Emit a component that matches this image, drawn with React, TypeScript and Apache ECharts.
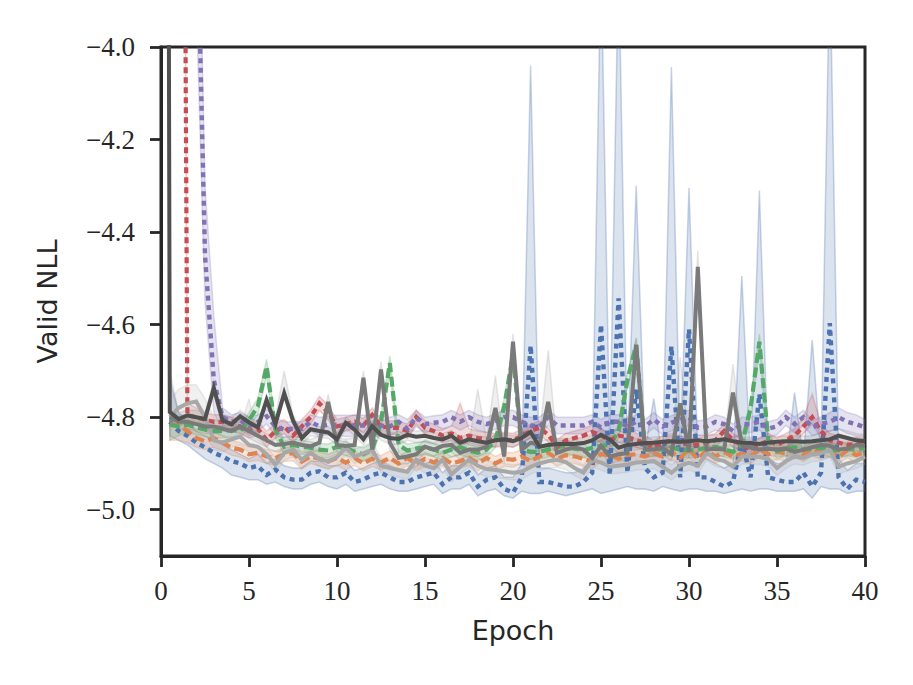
import React, { useEffect, useRef } from "react";
import * as echarts from "echarts";

// x grid (epochs), first point at 0
const EPOCHS = [
  0, 0.5, 1, 1.5, 2, 2.5, 3, 3.5, 4, 4.5, 5, 5.5, 6, 6.5, 7, 7.5, 8, 8.5, 9, 9.5, 10,
  10.5, 11, 11.5, 12, 12.5, 13, 13.5, 14, 14.5, 15, 15.5, 16, 16.5, 17, 17.5, 18, 18.5, 19, 19.5, 20,
  20.5, 21, 21.5, 22, 22.5, 23, 23.5, 24, 24.5, 25, 25.5, 26, 26.5, 27, 27.5, 28, 28.5, 29, 29.5, 30,
  30.5, 31, 31.5, 32, 32.5, 33, 33.5, 34, 34.5, 35, 35.5, 36, 36.5, 37, 37.5, 38, 38.5, 39, 39.5, 40,
];
const X_TICKS = [0, 5, 10, 15, 20, 25, 30, 35, 40];
const Y_TICKS = [-5.0, -4.8, -4.6, -4.4, -4.2, -4.0];

// ---- blue (dotted) ----
const BLUE = [null,
  -4.81, -4.83, -4.84, -4.855, -4.865, -4.877, -4.885, -4.895, -4.90, -4.91,
  -4.905, -4.925, -4.913, -4.93, -4.935, -4.935, -4.92, -4.917, -4.93, -4.93,
  -4.92, -4.94, -4.935, -4.925, -4.92, -4.93, -4.94, -4.94, -4.93, -4.925,
  -4.92, -4.945, -4.93, -4.93, -4.92, -4.95, -4.935, -4.93, -4.955, -4.963,
  -4.93, -4.645, -4.94, -4.94, -4.945, -4.95, -4.95, -4.94, -4.92, -4.60,
  -4.925, -4.543, -4.92, -4.74, -4.91, -4.93, -4.92, -4.647, -4.93, -4.61,
  -4.93, -4.93, -4.94, -4.95, -4.94, -4.85, -4.93, -4.75, -4.93, -4.935,
  -4.94, -4.94, -4.92, -4.95, -4.92, -4.597, -4.93, -4.955, -4.935, -4.94];
const BLUE_HI = [null,
  -4.72, -4.79, -4.81, -4.83, -4.84, -4.85, -4.86, -4.87, -4.88, -4.89,
  -4.88, -4.90, -4.89, -4.905, -4.91, -4.91, -4.895, -4.895, -4.905, -4.905,
  -4.895, -4.915, -4.91, -4.90, -4.895, -4.905, -4.915, -4.915, -4.905, -4.90,
  -4.895, -4.92, -4.905, -4.905, -4.895, -4.925, -4.91, -4.905, -4.93, -4.93,
  -4.90, -4.04, -4.91, -4.91, -4.915, -4.92, -4.92, -4.91, -4.89, -3.8,
  -4.86, -3.8, -4.88, -4.30, -4.87, -4.76, -4.89, -4.043, -4.88, -4.304,
  -4.88, -4.89, -4.90, -4.91, -4.90, -4.495, -4.90, -4.31, -4.89, -4.90,
  -4.90, -4.747, -4.89, -4.633, -4.88, -3.8, -4.89, -4.915, -4.90, -4.90];
const BLUE_LO = [null,
  -4.84, -4.85, -4.86, -4.875, -4.89, -4.90, -4.91, -4.925, -4.93, -4.935,
  -4.935, -4.945, -4.94, -4.95, -4.955, -4.955, -4.945, -4.94, -4.95, -4.955,
  -4.945, -4.96, -4.955, -4.95, -4.945, -4.955, -4.96, -4.96, -4.955, -4.95,
  -4.945, -4.965, -4.955, -4.955, -4.945, -4.97, -4.96, -4.955, -4.97, -4.975,
  -4.96, -4.965, -4.965, -4.96, -4.965, -4.97, -4.965, -4.96, -4.955, -4.965,
  -4.96, -4.955, -4.95, -4.955, -4.955, -4.96, -4.95, -4.955, -4.96, -4.955,
  -4.955, -4.96, -4.96, -4.965, -4.96, -4.955, -4.96, -4.955, -4.955, -4.96,
  -4.96, -4.96, -4.955, -4.975, -4.95, -4.955, -4.955, -4.965, -4.96, -4.96];

// ---- orange (dashed) ----
const ORANGE = [null,
  -4.815, -4.817, -4.83, -4.845, -4.852, -4.845, -4.855, -4.866, -4.87, -4.88,
  -4.877, -4.885, -4.888, -4.88, -4.878, -4.896, -4.885, -4.89, -4.896, -4.888,
  -4.898, -4.888, -4.9, -4.89, -4.898, -4.888, -4.9, -4.888, -4.9, -4.89,
  -4.898, -4.888, -4.9, -4.895, -4.888, -4.9, -4.888, -4.9, -4.89, -4.892,
  -4.885, -4.895, -4.885, -4.877, -4.89, -4.882, -4.885, -4.89, -4.896, -4.88,
  -4.882, -4.89, -4.882, -4.88, -4.885, -4.878, -4.885, -4.875, -4.888, -4.87,
  -4.89, -4.872, -4.885, -4.875, -4.886, -4.878, -4.885, -4.87, -4.88, -4.875,
  -4.878, -4.87, -4.88, -4.868, -4.875, -4.87, -4.885, -4.872, -4.882, -4.875];
const ORANGE_HI = [null,
  -4.80, -4.80, -4.81, -4.825, -4.835, -4.83, -4.84, -4.85, -4.855, -4.865,
  -4.862, -4.87, -4.873, -4.866, -4.864, -4.88, -4.87, -4.875, -4.88, -4.873,
  -4.883, -4.873, -4.885, -4.876, -4.883, -4.873, -4.885, -4.873, -4.885, -4.876,
  -4.883, -4.873, -4.885, -4.88, -4.873, -4.885, -4.873, -4.885, -4.876, -4.877,
  -4.87, -4.88, -4.87, -4.862, -4.875, -4.867, -4.87, -4.875, -4.88, -4.865,
  -4.867, -4.875, -4.867, -4.865, -4.87, -4.863, -4.87, -4.86, -4.873, -4.855,
  -4.875, -4.857, -4.87, -4.86, -4.871, -4.863, -4.87, -4.855, -4.865, -4.86,
  -4.863, -4.855, -4.865, -4.853, -4.86, -4.855, -4.87, -4.857, -4.867, -4.86];
const ORANGE_LO = [null,
  -4.85, -4.85, -4.855, -4.865, -4.87, -4.865, -4.872, -4.882, -4.886, -4.896,
  -4.893, -4.9, -4.904, -4.896, -4.894, -4.912, -4.9, -4.906, -4.912, -4.904,
  -4.914, -4.904, -4.916, -4.906, -4.914, -4.904, -4.916, -4.904, -4.916, -4.906,
  -4.914, -4.904, -4.916, -4.91, -4.904, -4.916, -4.904, -4.916, -4.906, -4.908,
  -4.9, -4.911, -4.9, -4.893, -4.906, -4.898, -4.9, -4.906, -4.912, -4.896,
  -4.898, -4.906, -4.898, -4.896, -4.9, -4.894, -4.9, -4.891, -4.904, -4.886,
  -4.906, -4.888, -4.9, -4.891, -4.902, -4.894, -4.9, -4.886, -4.896, -4.891,
  -4.894, -4.886, -4.896, -4.884, -4.891, -4.886, -4.9, -4.888, -4.898, -4.891];

// ---- green (dashed) ----
const GREEN = [null,
  -4.816, -4.82, -4.816, -4.822, -4.827, -4.83, -4.83, -4.828, -4.83, -4.806,
  -4.777, -4.69, -4.827, -4.864, -4.86, -4.864, -4.866, -4.87, -4.872, -4.864,
  -4.866, -4.875, -4.88, -4.87, -4.81, -4.683, -4.86, -4.872, -4.868, -4.865,
  -4.87, -4.877, -4.87, -4.865, -4.872, -4.877, -4.87, -4.85, -4.777, -4.665,
  -4.87, -4.875, -4.875, -4.87, -4.865, -4.862, -4.868, -4.872, -4.866, -4.862,
  -4.86, -4.83, -4.72, -4.644, -4.87, -4.868, -4.87, -4.866, -4.87, -4.872,
  -4.87, -4.866, -4.864, -4.87, -4.875, -4.86, -4.78, -4.637, -4.85, -4.873,
  -4.868, -4.865, -4.87, -4.868, -4.866, -4.87, -4.872, -4.868, -4.87, -4.866];
const GREEN_HI = [null,
  -4.80, -4.805, -4.80, -4.808, -4.814, -4.818, -4.818, -4.815, -4.818, -4.79,
  -4.76, -4.675, -4.81, -4.85, -4.847, -4.85, -4.853, -4.857, -4.858, -4.85,
  -4.853, -4.862, -4.866, -4.856, -4.795, -4.668, -4.847, -4.858, -4.855, -4.852,
  -4.857, -4.864, -4.857, -4.852, -4.858, -4.863, -4.857, -4.836, -4.76, -4.645,
  -4.855, -4.862, -4.862, -4.857, -4.852, -4.849, -4.855, -4.858, -4.853, -4.849,
  -4.847, -4.816, -4.705, -4.628, -4.855, -4.855, -4.857, -4.853, -4.857, -4.858,
  -4.857, -4.853, -4.85, -4.857, -4.862, -4.846, -4.763, -4.62, -4.835, -4.86,
  -4.855, -4.852, -4.857, -4.855, -4.853, -4.857, -4.858, -4.855, -4.857, -4.853];
const GREEN_LO = [null,
  -4.85, -4.84, -4.832, -4.838, -4.842, -4.845, -4.845, -4.843, -4.845, -4.822,
  -4.795, -4.71, -4.845, -4.88, -4.876, -4.88, -4.882, -4.886, -4.888, -4.88,
  -4.882, -4.89, -4.895, -4.886, -4.826, -4.7, -4.877, -4.888, -4.884, -4.881,
  -4.886, -4.893, -4.886, -4.881, -4.888, -4.893, -4.886, -4.866, -4.795, -4.685,
  -4.886, -4.891, -4.891, -4.886, -4.881, -4.878, -4.884, -4.888, -4.882, -4.878,
  -4.876, -4.846, -4.736, -4.662, -4.886, -4.884, -4.886, -4.882, -4.886, -4.888,
  -4.886, -4.882, -4.88, -4.886, -4.891, -4.876, -4.797, -4.655, -4.866, -4.889,
  -4.884, -4.881, -4.886, -4.884, -4.882, -4.886, -4.888, -4.884, -4.886, -4.882];

// ---- red (dashed, short) ----
const RED = [null,
  -0.5, -1.0, -4.796, -4.80, -4.806, -4.81, -4.81, -4.815, -4.82, -4.83,
  -4.825, -4.849, -4.83, -4.82, -4.84, -4.82, -4.80, -4.77, -4.79, -4.82,
  -4.815, -4.81, -4.818, -4.795, -4.82, -4.823, -4.823, -4.83, -4.80, -4.823,
  -4.83, -4.84, -4.835, -4.845, -4.84, -4.845, -4.848, -4.85, -4.848, -4.85,
  -4.84, -4.83, -4.823, -4.838, -4.864, -4.85, -4.845, -4.84, -4.832, -4.84,
  -4.85, -4.84, -4.843, -4.85, -4.855, -4.866, -4.855, -4.85, -4.855, -4.86,
  -4.86, -4.855, -4.85, -4.83, -4.85, -4.86, -4.87, -4.86, -4.85, -4.86,
  -4.85, -4.84, -4.82, -4.80, -4.83, -4.85, -4.855, -4.86, -4.858, -4.86];
const RED_HI = [null,
  -0.3, -0.8, -4.77, -4.78, -4.79, -4.795, -4.795, -4.80, -4.805, -4.815,
  -4.81, -4.83, -4.815, -4.805, -4.825, -4.805, -4.785, -4.755, -4.775, -4.805,
  -4.80, -4.795, -4.803, -4.78, -4.805, -4.808, -4.808, -4.815, -4.785, -4.808,
  -4.815, -4.825, -4.82, -4.77, -4.825, -4.83, -4.833, -4.835, -4.833, -4.835,
  -4.825, -4.815, -4.808, -4.823, -4.849, -4.835, -4.83, -4.825, -4.817, -4.825,
  -4.835, -4.825, -4.80, -4.835, -4.84, -4.851, -4.84, -4.835, -4.84, -4.845,
  -4.845, -4.84, -4.835, -4.815, -4.835, -4.845, -4.855, -4.845, -4.835, -4.845,
  -4.835, -4.825, -4.80, -4.75, -4.815, -4.835, -4.84, -4.845, -4.843, -4.845];
const RED_LO = [null,
  -0.7, -1.2, -4.81, -4.815, -4.82, -4.825, -4.825, -4.83, -4.835, -4.845,
  -4.84, -4.864, -4.845, -4.835, -4.855, -4.835, -4.815, -4.785, -4.805, -4.835,
  -4.83, -4.825, -4.833, -4.81, -4.835, -4.838, -4.838, -4.845, -4.815, -4.838,
  -4.845, -4.855, -4.85, -4.86, -4.855, -4.86, -4.863, -4.865, -4.863, -4.865,
  -4.855, -4.845, -4.838, -4.853, -4.879, -4.865, -4.86, -4.855, -4.847, -4.855,
  -4.865, -4.855, -4.858, -4.865, -4.87, -4.881, -4.87, -4.865, -4.87, -4.875,
  -4.875, -4.87, -4.865, -4.845, -4.865, -4.875, -4.885, -4.875, -4.865, -4.875,
  -4.865, -4.855, -4.835, -4.815, -4.845, -4.865, -4.87, -4.875, -4.873, -4.875];

// ---- purple (dotted) ----
const PURPLE = [null,
  -1.5, -2.0, -2.8, -3.63, -4.45, -4.72, -4.80, -4.81, -4.806, -4.82,
  -4.81, -4.798, -4.82, -4.827, -4.825, -4.825, -4.81, -4.82, -4.816, -4.816,
  -4.818, -4.818, -4.818, -4.818, -4.818, -4.82, -4.81, -4.825, -4.80, -4.815,
  -4.812, -4.81, -4.80, -4.81, -4.80, -4.81, -4.815, -4.808, -4.80, -4.80,
  -4.81, -4.818, -4.82, -4.80, -4.818, -4.818, -4.818, -4.818, -4.81, -4.822,
  -4.81, -4.81, -4.82, -4.81, -4.82, -4.805, -4.82, -4.812, -4.805, -4.80,
  -4.823, -4.82, -4.81, -4.815, -4.83, -4.815, -4.815, -4.81, -4.825, -4.82,
  -4.80, -4.815, -4.80, -4.822, -4.815, -4.81, -4.80, -4.81, -4.815, -4.822];
const PURPLE_HI = [null,
  -1.2, -1.7, -2.5, -3.4, -4.30, -4.58, -4.78, -4.795, -4.79, -4.80,
  -4.795, -4.783, -4.80, -4.81, -4.81, -4.81, -4.795, -4.80, -4.798, -4.796,
  -4.796, -4.796, -4.796, -4.796, -4.796, -4.80, -4.795, -4.805, -4.785, -4.80,
  -4.797, -4.795, -4.785, -4.795, -4.785, -4.795, -4.80, -4.793, -4.785, -4.785,
  -4.795, -4.80, -4.80, -4.785, -4.80, -4.80, -4.80, -4.80, -4.795, -4.805,
  -4.795, -4.795, -4.805, -4.795, -4.805, -4.79, -4.805, -4.797, -4.79, -4.785,
  -4.808, -4.805, -4.795, -4.80, -4.815, -4.80, -4.80, -4.795, -4.81, -4.805,
  -4.785, -4.80, -4.785, -4.807, -4.80, -4.79, -4.78, -4.79, -4.795, -4.805];
const PURPLE_LO = [null,
  -1.8, -2.3, -3.1, -3.9, -4.55, -4.79, -4.83, -4.83, -4.826, -4.84,
  -4.83, -4.815, -4.84, -4.845, -4.843, -4.843, -4.83, -4.84, -4.838, -4.84,
  -4.842, -4.842, -4.842, -4.842, -4.842, -4.84, -4.83, -4.845, -4.82, -4.833,
  -4.83, -4.828, -4.818, -4.828, -4.818, -4.828, -4.833, -4.826, -4.818, -4.818,
  -4.828, -4.836, -4.838, -4.818, -4.836, -4.836, -4.836, -4.836, -4.828, -4.84,
  -4.828, -4.828, -4.838, -4.828, -4.838, -4.823, -4.838, -4.83, -4.823, -4.818,
  -4.841, -4.838, -4.828, -4.833, -4.848, -4.833, -4.833, -4.828, -4.843, -4.838,
  -4.818, -4.833, -4.818, -4.84, -4.833, -4.83, -4.825, -4.835, -4.84, -4.842];

// ---- light grey (solid) ----
const LIGHT = [null,
  -4.80, -4.78, -4.77, -4.766, -4.80, -4.85, -4.855, -4.848, -4.842, -4.86,
  -4.864, -4.88, -4.903, -4.877, -4.87, -4.892, -4.877, -4.89, -4.896, -4.886,
  -4.866, -4.885, -4.878, -4.87, -4.905, -4.91, -4.914, -4.918, -4.892, -4.905,
  -4.91, -4.892, -4.924, -4.907, -4.892, -4.905, -4.912, -4.914, -4.917, -4.92,
  -4.918, -4.907, -4.90, -4.895, -4.892, -4.897, -4.91, -4.92, -4.892, -4.898,
  -4.907, -4.905, -4.903, -4.898, -4.897, -4.895, -4.907, -4.92, -4.905, -4.898,
  -4.905, -4.877, -4.89, -4.895, -4.907, -4.885, -4.885, -4.886, -4.89, -4.91,
  -4.895, -4.885, -4.888, -4.88, -4.878, -4.87, -4.907, -4.90, -4.895, -4.885];
const LIGHT_HI = [null,
  -4.76, -4.74, -4.73, -4.73, -4.76, -4.80, -4.83, -4.83, -4.825, -4.76,
  -4.848, -4.864, -4.887, -4.86, -4.853, -4.876, -4.86, -4.873, -4.88, -4.87,
  -4.85, -4.869, -4.862, -4.853, -4.889, -4.893, -4.898, -4.90, -4.876, -4.888,
  -4.893, -4.876, -4.907, -4.89, -4.876, -4.888, -4.895, -4.897, -4.90, -4.903,
  -4.90, -4.89, -4.883, -4.878, -4.876, -4.88, -4.893, -4.903, -4.876, -4.882,
  -4.89, -4.888, -4.886, -4.88, -4.88, -4.878, -4.89, -4.903, -4.888, -4.88,
  -4.888, -4.86, -4.873, -4.878, -4.89, -4.868, -4.868, -4.87, -4.873, -4.893,
  -4.878, -4.868, -4.87, -4.862, -4.86, -4.852, -4.89, -4.883, -4.878, -4.868];
const LIGHT_LO = [null,
  -4.83, -4.81, -4.80, -4.80, -4.83, -4.87, -4.875, -4.865, -4.86, -4.877,
  -4.88, -4.896, -4.92, -4.893, -4.886, -4.908, -4.893, -4.906, -4.912, -4.902,
  -4.882, -4.90, -4.894, -4.886, -4.92, -4.926, -4.93, -4.934, -4.908, -4.921,
  -4.926, -4.908, -4.94, -4.923, -4.908, -4.921, -4.928, -4.93, -4.933, -4.936,
  -4.934, -4.923, -4.916, -4.911, -4.908, -4.913, -4.926, -4.936, -4.908, -4.914,
  -4.923, -4.921, -4.919, -4.914, -4.913, -4.911, -4.923, -4.936, -4.921, -4.914,
  -4.921, -4.893, -4.906, -4.911, -4.923, -4.901, -4.901, -4.902, -4.906, -4.926,
  -4.911, -4.901, -4.904, -4.896, -4.894, -4.886, -4.923, -4.916, -4.911, -4.901];

// ---- medium grey (solid, spiky) ----
const MID = [null,
  -4.80, -4.81, -4.81, -4.815, -4.82, -4.82, -4.825, -4.83, -4.82, -4.83,
  -4.84, -4.85, -4.86, -4.858, -4.855, -4.86, -4.863, -4.855, -4.767, -4.86,
  -4.862, -4.86, -4.715, -4.87, -4.697, -4.855, -4.888, -4.885, -4.88, -4.864,
  -4.87, -4.862, -4.86, -4.877, -4.87, -4.87, -4.864, -4.78, -4.885, -4.637,
  -4.87, -4.855, -4.86, -4.767, -4.877, -4.87, -4.865, -4.87, -4.888, -4.862,
  -4.885, -4.88, -4.878, -4.644, -4.87, -4.87, -4.866, -4.88, -4.77, -4.875,
  -4.475, -4.87, -4.868, -4.87, -4.747, -4.86, -4.865, -4.87, -4.868, -4.87,
  -4.868, -4.875, -4.87, -4.865, -4.86, -4.862, -4.87, -4.868, -4.86, -4.862];
const MID_HI = [null,
  -4.785, -4.795, -4.795, -4.80, -4.805, -4.805, -4.81, -4.815, -4.805, -4.815,
  -4.825, -4.835, -4.845, -4.843, -4.84, -4.845, -4.848, -4.84, -4.75, -4.845,
  -4.847, -4.845, -4.70, -4.855, -4.68, -4.84, -4.873, -4.87, -4.865, -4.849,
  -4.855, -4.847, -4.845, -4.862, -4.855, -4.74, -4.849, -4.71, -4.87, -4.62,
  -4.855, -4.84, -4.845, -4.655, -4.862, -4.855, -4.85, -4.855, -4.873, -4.847,
  -4.87, -4.865, -4.863, -4.63, -4.855, -4.855, -4.851, -4.865, -4.67, -4.86,
  -4.44, -4.855, -4.853, -4.855, -4.685, -4.845, -4.85, -4.855, -4.853, -4.855,
  -4.853, -4.86, -4.855, -4.85, -4.845, -4.847, -4.855, -4.853, -4.845, -4.847];
const MID_LO = [null,
  -4.815, -4.825, -4.825, -4.83, -4.835, -4.835, -4.84, -4.845, -4.835, -4.845,
  -4.855, -4.865, -4.875, -4.873, -4.87, -4.875, -4.878, -4.87, -4.79, -4.875,
  -4.877, -4.875, -4.735, -4.885, -4.72, -4.87, -4.903, -4.90, -4.895, -4.879,
  -4.885, -4.877, -4.875, -4.892, -4.885, -4.885, -4.879, -4.80, -4.90, -4.66,
  -4.885, -4.87, -4.875, -4.79, -4.892, -4.885, -4.88, -4.885, -4.903, -4.877,
  -4.90, -4.895, -4.893, -4.665, -4.885, -4.885, -4.881, -4.895, -4.79, -4.89,
  -4.51, -4.885, -4.883, -4.885, -4.77, -4.875, -4.88, -4.885, -4.883, -4.885,
  -4.883, -4.89, -4.885, -4.88, -4.875, -4.877, -4.885, -4.883, -4.875, -4.877];

// ---- dark grey (solid) ----
const DARK = [3.0,
  -4.789, -4.804, -4.796, -4.80, -4.804, -4.737, -4.807, -4.815, -4.798, -4.811,
  -4.822, -4.763, -4.815, -4.748, -4.807, -4.845, -4.826, -4.83, -4.833, -4.848,
  -4.812, -4.827, -4.848, -4.82, -4.838, -4.845, -4.847, -4.838, -4.842, -4.84,
  -4.845, -4.848, -4.84, -4.855, -4.848, -4.852, -4.855, -4.85, -4.848, -4.852,
  -4.845, -4.832, -4.864, -4.86, -4.858, -4.858, -4.858, -4.856, -4.85, -4.838,
  -4.848, -4.866, -4.86, -4.858, -4.856, -4.855, -4.853, -4.852, -4.853, -4.852,
  -4.85, -4.852, -4.85, -4.848, -4.852, -4.855, -4.856, -4.858, -4.855, -4.853,
  -4.852, -4.852, -4.853, -4.852, -4.85, -4.848, -4.84, -4.845, -4.85, -4.852];
const DARK_HI = [3.2,
  -4.70, -4.79, -4.785, -4.785, -4.79, -4.72, -4.795, -4.80, -4.785, -4.80,
  -4.81, -4.75, -4.80, -4.70, -4.795, -4.83, -4.815, -4.82, -4.82, -4.835,
  -4.80, -4.815, -4.835, -4.808, -4.826, -4.833, -4.835, -4.826, -4.83, -4.828,
  -4.833, -4.836, -4.828, -4.843, -4.836, -4.84, -4.843, -4.838, -4.836, -4.84,
  -4.833, -4.82, -4.852, -4.848, -4.846, -4.846, -4.846, -4.844, -4.838, -4.826,
  -4.836, -4.854, -4.848, -4.846, -4.844, -4.843, -4.841, -4.84, -4.841, -4.84,
  -4.838, -4.84, -4.838, -4.836, -4.84, -4.843, -4.844, -4.846, -4.843, -4.841,
  -4.84, -4.84, -4.841, -4.84, -4.835, -4.83, -4.825, -4.83, -4.835, -4.838];
const DARK_LO = [2.8,
  -4.81, -4.82, -4.81, -4.815, -4.818, -4.75, -4.82, -4.828, -4.81, -4.824,
  -4.835, -4.775, -4.828, -4.76, -4.82, -4.858, -4.84, -4.843, -4.846, -4.86,
  -4.825, -4.84, -4.86, -4.833, -4.85, -4.858, -4.86, -4.85, -4.855, -4.853,
  -4.858, -4.86, -4.853, -4.868, -4.86, -4.865, -4.868, -4.863, -4.86, -4.865,
  -4.858, -4.845, -4.877, -4.873, -4.871, -4.871, -4.871, -4.869, -4.863, -4.851,
  -4.861, -4.879, -4.873, -4.871, -4.869, -4.868, -4.866, -4.865, -4.866, -4.865,
  -4.863, -4.865, -4.863, -4.861, -4.865, -4.868, -4.869, -4.871, -4.868, -4.866,
  -4.865, -4.865, -4.866, -4.865, -4.863, -4.861, -4.855, -4.86, -4.865, -4.867];

const INK = "#262626";

function bandSeries(lo: (number | null)[], hi: (number | null)[], rgb: string, fillA: number, edgeA: number) {
  return {
    type: "custom",
    silent: true,
    clip: true,
    z: 1,
    data: [[0, -4.5]],
    renderItem: (_params: any, api: any) => {
      const top: number[][] = [];
      const bottom: number[][] = [];
      for (let i = 0; i < EPOCHS.length; i++) {
        const l = lo[i];
        const h = hi[i];
        if (l == null || h == null) continue;
        top.push(api.coord([EPOCHS[i], h]));
        bottom.push(api.coord([EPOCHS[i], l]));
      }
      const points = top.concat(bottom.reverse());
      return {
        type: "polygon",
        shape: { points },
        style: {
          fill: `rgba(${rgb},${fillA})`,
          stroke: `rgba(${rgb},${edgeA})`,
          lineWidth: 1.5,
        },
      };
    },
  };
}

function lineSeries(name: string, values: (number | null)[], color: string, dash: any, width: number, z: number) {
  const data: number[][] = [];
  for (let i = 0; i < EPOCHS.length; i++) {
    const v = values[i];
    if (v != null) data.push([EPOCHS[i], v]);
  }
  return {
    name,
    type: "line",
    data,
    showSymbol: false,
    symbol: "none",
    clip: true,
    silent: true,
    z,
    lineStyle: { color, width, type: dash, cap: "butt", join: "miter" },
    itemStyle: { color },
  };
}

export default function App() {
  const ref = useRef<HTMLDivElement | null>(null);
  useEffect(() => {
    if (!ref.current) return;
    const chart = echarts.init(ref.current, undefined, { renderer: "svg" });
    const fmt = (v: number) => v.toFixed(1).replace("-", "\u2212");
    chart.setOption({
      animation: false,
      backgroundColor: "#ffffff",
      grid: {
        left: 161,
        top: 47,
        width: 704,
        height: 509,
        show: true,
        borderColor: INK,
        borderWidth: 3,
        backgroundColor: "transparent",
      },
      xAxis: {
        type: "value",
        min: 0,
        max: 40,
        interval: 5,
        name: "Epoch",
        nameLocation: "middle",
        nameGap: 61,
        nameTextStyle: { fontFamily: "DejaVu Sans", fontSize: 27, color: INK },
        axisLine: { show: true, lineStyle: { color: INK, width: 3 } },
        axisTick: { show: true, length: 11, lineStyle: { color: INK, width: 2.8 }, customValues: X_TICKS },
        axisLabel: { color: INK, fontFamily: "Liberation Serif", fontSize: 27, margin: 21, customValues: X_TICKS },
        splitLine: { show: false },
      },
      yAxis: {
        type: "value",
        min: -5.1,
        max: -4.0,
        name: "Valid NLL",
        nameLocation: "middle",
        nameGap: 100,
        nameTextStyle: { fontFamily: "DejaVu Sans", fontSize: 27, color: INK },
        axisLine: { show: true, onZero: false, lineStyle: { color: INK, width: 3 } },
        axisTick: { show: true, length: 11, lineStyle: { color: INK, width: 2.8 }, customValues: Y_TICKS },
        axisLabel: { color: INK, fontFamily: "Liberation Serif", fontSize: 27, margin: 26, formatter: fmt, customValues: Y_TICKS },
        splitLine: { show: false },
      },
      series: [
        bandSeries(BLUE_LO, BLUE_HI, "76,114,176", 0.2, 0.3),
        bandSeries(ORANGE_LO, ORANGE_HI, "221,132,82", 0.2, 0.25),
        bandSeries(GREEN_LO, GREEN_HI, "85,168,104", 0.2, 0.25),
        bandSeries(RED_LO, RED_HI, "196,78,82", 0.2, 0.25),
        bandSeries(PURPLE_LO, PURPLE_HI, "129,114,179", 0.2, 0.25),
        bandSeries(LIGHT_LO, LIGHT_HI, "170,170,170", 0.18, 0.22),
        bandSeries(MID_LO, MID_HI, "128,128,128", 0.13, 0.18),
        bandSeries(DARK_LO, DARK_HI, "85,85,85", 0.1, 0.13),
        lineSeries("blue", BLUE, "#4C72B0", [5, 4.5], 4.4, 3),
        lineSeries("orange", ORANGE, "#DD8452", [10, 4.5], 4.2, 3),
        lineSeries("green", GREEN, "#55A868", [10, 4.5], 4.2, 3),
        lineSeries("red", RED, "#C44E52", [6, 4], 4.2, 3),
        lineSeries("purple", PURPLE, "#8172B3", [5, 4.5], 4.4, 3),
        lineSeries("light", LIGHT, "#a8a8a8", "solid", 4.0, 4),
        lineSeries("mid", MID, "#7a7a7a", "solid", 4.0, 4),
        lineSeries("dark", DARK, "#505050", "solid", 4.0, 5),
      ],
    });
    return () => chart.dispose();
  }, []);
  return (
    <div
      ref={ref}
      style={{ position: "fixed", left: 0, top: 0, width: 913, height: 685, background: "#ffffff" }}
    />
  );
}
